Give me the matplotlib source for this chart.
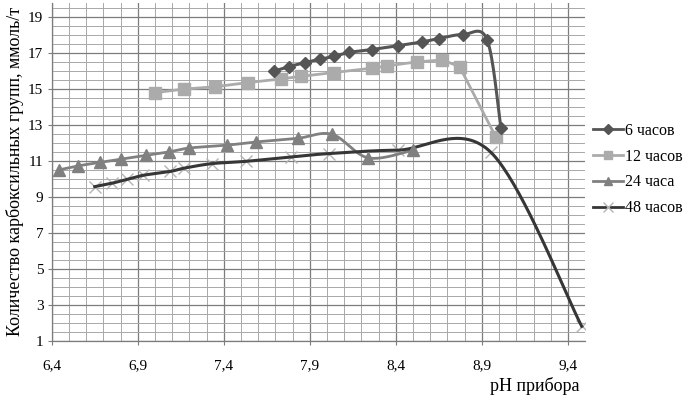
import numpy as np
import matplotlib
matplotlib.use('Agg')
import matplotlib.pyplot as plt
from matplotlib.lines import Line2D
from matplotlib.ticker import MultipleLocator, FuncFormatter

plt.rcParams['font.family'] = ['Liberation Serif', 'DejaVu Serif']

# Data
ph_6h = [7.69, 7.78, 7.87, 7.96, 8.04, 8.13, 8.26, 8.41, 8.55, 8.65, 8.79, 8.93, 9.01]
cooh_6h = [16.0, 16.25, 16.47, 16.66, 16.82, 17.04, 17.2, 17.41, 17.62, 17.81, 18.03, 17.75, 12.85]

ph_12h = [7.0, 7.17, 7.35, 7.54, 7.73, 7.85, 8.04, 8.26, 8.35, 8.52, 8.67, 8.77, 8.98]
cooh_12h = [14.8, 15.0, 15.13, 15.36, 15.56, 15.71, 15.92, 16.16, 16.29, 16.51, 16.62, 16.25, 12.35]

ph_24h = [6.44, 6.55, 6.68, 6.80, 6.95, 7.08, 7.20, 7.42, 7.59, 7.83, 8.03, 8.24, 8.50]
cooh_24h = [10.5, 10.72, 10.92, 11.1, 11.32, 11.5, 11.72, 11.88, 12.06, 12.26, 12.48, 11.17, 11.6]

ph_48h = [6.65, 6.75, 6.84, 6.93, 7.09, 7.17, 7.33, 7.53, 7.79, 8.01, 8.41, 8.95, 9.48]
cooh_48h = [9.57, 9.76, 9.98, 10.2, 10.42, 10.6, 10.85, 10.98, 11.22, 11.41, 11.6, 11.5, 1.8]

labels = ['6 часов', '12 часов', '24 часа', '48 часов']
x_ticks = [6.4, 6.9, 7.4, 7.9, 8.4, 8.9, 9.4]
y_ticks = [1, 3, 5, 7, 9, 11, 13, 15, 17, 19]


# Excel-like smoothed line (Bezier through the points)
def smooth(xs, ys, n=40):
    p = np.column_stack([xs, ys]).astype(float)
    ext = np.vstack([p[0], p, p[-1]])
    out = []
    for i in range(len(p) - 1):
        p0, p3 = ext[i + 1], ext[i + 2]
        c1 = p0 + (ext[i + 2] - ext[i]) / 6.0
        c2 = p3 - (ext[i + 3] - ext[i + 1]) / 6.0
        t = np.linspace(0, 1, n)[:, None]
        seg = ((1 - t) ** 3) * p0 + 3 * ((1 - t) ** 2) * t * c1 + 3 * (1 - t) * t ** 2 * c2 + t ** 3 * p3
        out.append(seg if i == 0 else seg[1:])
    seg = np.vstack(out)
    return seg[:, 0], seg[:, 1]


fig = plt.figure(figsize=(6.86, 3.98), dpi=100)
ax = fig.add_axes([0.0754, 0.144, 0.7776, 0.849])

c6, c12, c24, c48, c48m = '#555555', '#ababab', '#808080', '#363636', '#b4b4b4'

sx, sy = smooth(ph_6h, cooh_6h)
ax.plot(sx, sy, color=c6, lw=2.2, zorder=4)
ax.plot(ph_6h, cooh_6h, ls='none', marker='D', ms=6, color=c6, zorder=5)

ax.plot(ph_12h, cooh_12h, color=c12, lw=2.0, zorder=3)
ax.plot(ph_12h, cooh_12h, ls='none', marker='s', ms=8, color=c12, zorder=3)

sx, sy = smooth(ph_24h, cooh_24h)
ax.plot(sx, sy, color=c24, lw=2.0, zorder=4)
ax.plot(ph_24h, cooh_24h, ls='none', marker='^', ms=8, color=c24, zorder=5)

ax.plot(ph_48h, cooh_48h, ls='none', marker='x', ms=8, mew=1.0, color=c48m, zorder=3)
sx, sy = smooth(ph_48h, cooh_48h)
ax.plot(sx, sy, color=c48, lw=2.2, zorder=4)

ax.set_xlim(6.4, 9.5)
ax.set_ylim(1, 19.8)
ax.set_xticks(x_ticks)
ax.xaxis.set_minor_locator(MultipleLocator(0.1))
ax.set_yticks(y_ticks)
ax.yaxis.set_minor_locator(MultipleLocator(0.5))
ax.xaxis.set_major_formatter(FuncFormatter(lambda v, p: ('%.1f' % v).replace('.', ',')))

ax.grid(which='major', color='#7c7c7c', lw=0.9)
ax.grid(which='minor', color='#a8a8a8', lw=0.7)
ax.set_axisbelow(True)

for s in ['top', 'right']:
    ax.spines[s].set_visible(False)
for s in ['left', 'bottom']:
    ax.spines[s].set_color('#7c7c7c')
    ax.spines[s].set_linewidth(0.9)

ax.tick_params(which='major', length=3, color='#7c7c7c', labelsize=11, pad=3)
ax.tick_params(axis='x', which='major', pad=10)
ax.tick_params(which='minor', length=0)

ax.set_ylabel('Количество карбоксильных групп, ммоль/т', fontsize=13, labelpad=3)
ax.set_xlabel('pH прибора', fontsize=13)
ax.xaxis.set_label_coords(0.99, -0.108)
ax.xaxis.label.set_horizontalalignment('right')

handles = [
    Line2D([], [], color=c6, lw=2, marker='D', ms=5),
    Line2D([], [], color=c12, lw=2, marker='s', ms=6),
    Line2D([], [], color=c24, lw=2, marker='^', ms=6),
    Line2D([], [], color=c48, lw=2, marker='x', ms=7, mec=c48m, mew=1),
]
fig.legend(handles, labels, loc='upper left', bbox_to_anchor=(0.855, 0.708),
           frameon=False, fontsize=11.5, handlelength=1.9, handletextpad=0.1,
           labelspacing=0.62, borderaxespad=0)

fig.savefig('out.png', dpi=100)
